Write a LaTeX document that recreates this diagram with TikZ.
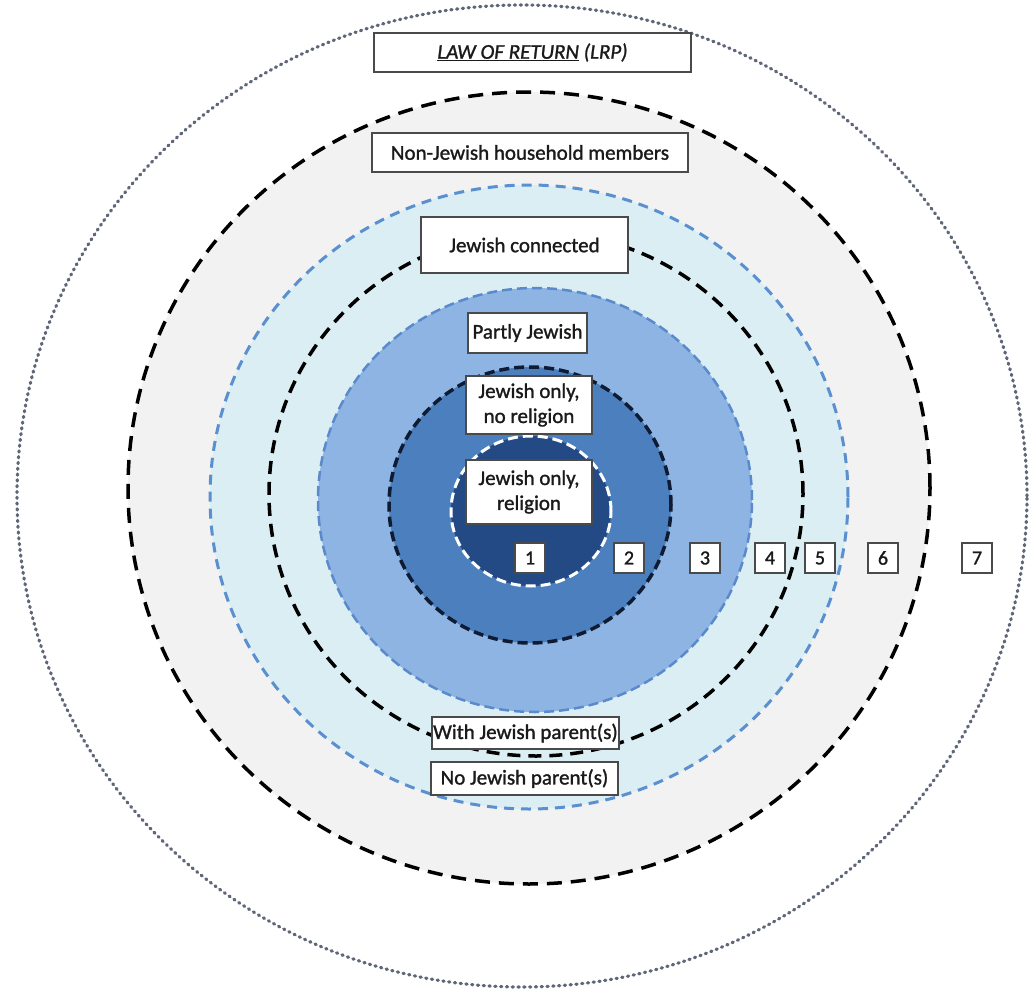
\documentclass[tikz,border=0pt]{standalone}
\usepackage{fontspec}
\setmainfont{Carlito}
\newfontfamily\lblfont{Carlito}[FakeBold=1.3]
\definecolor{gfill}{HTML}{F2F2F2}
\definecolor{lbfill}{HTML}{DBEEF4}
\definecolor{mbfill}{HTML}{8EB4E3}
\definecolor{r2fill}{HTML}{4C7FBE}
\definecolor{r1fill}{HTML}{234A84}
\definecolor{bluedash}{HTML}{5A8FD0}
\definecolor{mbdash}{HTML}{5A8ACB}
\definecolor{navydash}{HTML}{0E1B33}
\definecolor{dotc}{HTML}{5E6678}
\definecolor{boxgray}{HTML}{4A4A4A}
\definecolor{txt}{HTML}{1A1A1A}
\begin{document}
\begin{tikzpicture}[x=1pt,y=-1pt,
  lbl/.style={draw=boxgray, line width=1.2pt, fill=white, text=txt,
    font=\lblfont\fontsize{21}{25}\selectfont, inner sep=0pt, align=center},
  numbox/.style={draw=boxgray, line width=1.2pt, fill=white, text=txt,
    font=\lblfont\fontsize{20}{20}\selectfont, minimum width=30pt, minimum height=30pt, inner sep=0pt},
  dotring/.style={draw=dotc, line width=3.2pt, line cap=round, dash pattern=on 1.2pt off 4.6pt},
  blackring/.style={draw=black, line width=3.5pt, dash pattern=on 15pt off 9pt},
  bluering/.style={draw=bluedash, line width=3pt, dash pattern=on 10pt off 7pt},
  midring/.style={draw=black, line width=3.5pt, dash pattern=on 13pt off 8pt},
  mbring/.style={draw=mbdash, line width=2.5pt, dash pattern=on 10pt off 5pt},
  navyring/.style={draw=navydash, line width=3.5pt, dash pattern=on 10pt off 5pt},
  whitering/.style={draw=white, line width=3pt, dash pattern=on 10pt off 5pt}]
\useasboundingbox (0,0) rectangle (1029,993);
\fill[white] (0,0) rectangle (1029,993);
% rings
\path[dotring] (522,496) ellipse [x radius=505pt, y radius=491pt];
\path[blackring, fill=gfill] (529,488) ellipse [x radius=401pt, y radius=396pt];
\path[bluering, fill=lbfill] (529,497) ellipse [x radius=319pt, y radius=312pt];
\path[midring] (536,494) ellipse [x radius=267pt, y radius=262pt];
\path[mbring, fill=mbfill] (535,500) ellipse [x radius=217pt, y radius=212pt];
\path[navyring, fill=r2fill] (530,505) ellipse [x radius=141pt, y radius=138pt];
\path[whitering, fill=r1fill] (531,511) ellipse [x radius=80pt, y radius=75pt];
% labels
\node[lbl, minimum width=317pt, minimum height=39pt] (law) at (532.5,52.5)
  {\textit{\underline{LAW OF RETURN} (LRP)}};
\node[lbl, minimum width=316pt, minimum height=39pt] (nonjew) at (530,152.5)
  {Non-Jewish household members};
\node[lbl, minimum width=207pt, minimum height=56pt] (conn) at (524.5,245)
  {Jewish connected};
\node[lbl, minimum width=119pt, minimum height=40pt] (partly) at (527.5,333)
  {Partly Jewish};
\node[lbl, minimum width=126pt, minimum height=58pt] (norel) at (529,405)
  {Jewish only,\\no religion};
\node[lbl, minimum width=126pt, minimum height=64pt] (rel) at (529,492)
  {Jewish only,\\religion};
\node[lbl, minimum width=187pt, minimum height=32pt] (withp) at (525.5,733)
  {With Jewish parent(s)};
\node[lbl, minimum width=187pt, minimum height=33pt] (nop) at (524.5,778.5)
  {No Jewish parent(s)};
% ring numbers
\node[numbox] (n1) at (530,558) {1};
\node[numbox] (n2) at (629,558) {2};
\node[numbox] (n3) at (705,558) {3};
\node[numbox] (n4) at (770,558) {4};
\node[numbox] (n5) at (820,558) {5};
\node[numbox] (n6) at (883,558) {6};
\node[numbox] (n7) at (977,558) {7};
\end{tikzpicture}
\end{document}
